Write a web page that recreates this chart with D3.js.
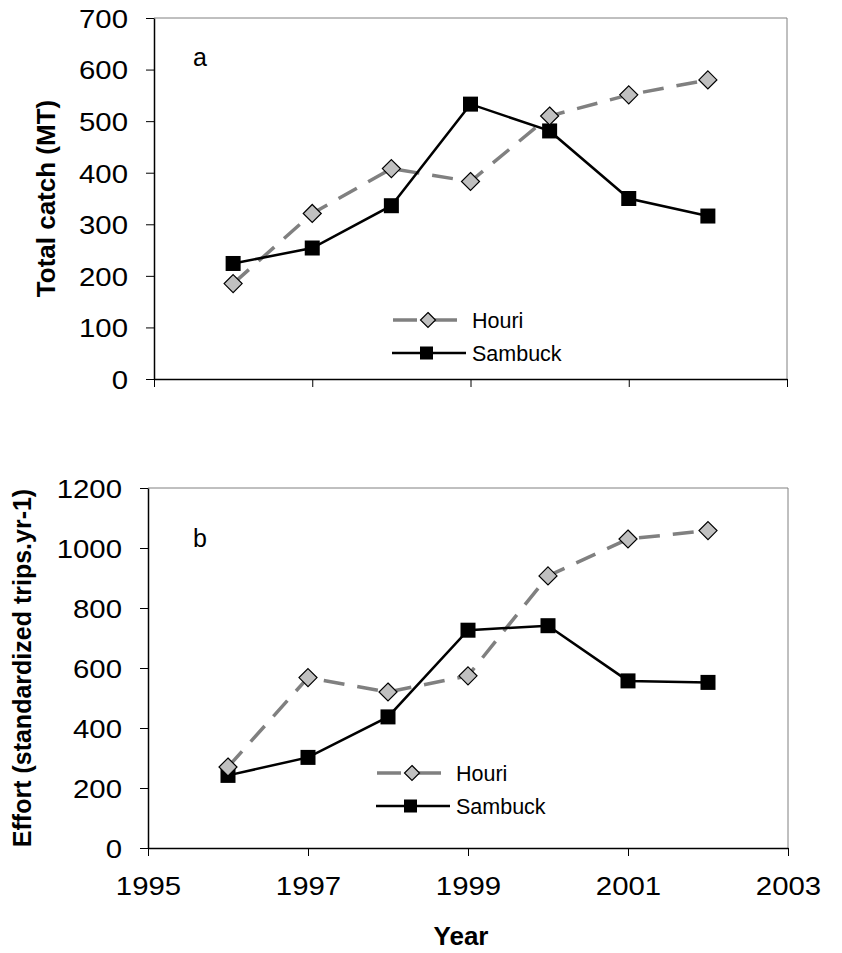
<!DOCTYPE html>
<html><head><meta charset="utf-8">
<script src="https://cdn.jsdelivr.net/npm/d3@7/dist/d3.min.js"></script>
<style>body{margin:0;background:#fff}svg{display:block}text{font-family:"Liberation Sans",Arial,sans-serif;fill:#000}</style>
</head><body>
<svg id="c" width="842" height="953"></svg>
<script>
const years = [1996, 1997, 1998, 1999, 2000, 2001, 2002];
const catchHouri = [185, 321, 408, 383, 510, 551, 580];
const catchSambuck = [224, 254, 336, 533, 481, 350, 316];
const effortHouri = [270, 568, 520, 574, 907, 1030, 1058];
const effortSambuck = [242, 302, 437, 726, 741, 557, 552];
const xTicks = [1995, 1997, 1999, 2001, 2003];
const catchTicks = [0, 100, 200, 300, 400, 500, 600, 700];
const effortTicks = [0, 200, 400, 600, 800, 1000, 1200];
const seriesNames = ["Houri", "Sambuck"];

const svg = d3.select("#c");
const FONT = "'Liberation Sans',Arial,sans-serif";

function panel(o) {
  const g = svg.append("g");
  const x = d3.scaleLinear().domain([1995, 2003]).range([o.left, o.right]);
  const y = d3.scaleLinear().domain([0, o.ymax]).range([o.bottom, o.top]);
  g.append("path").attr("d", `M${o.left},${o.top}H${o.right}V${o.bottom}`)
    .attr("fill", "none").attr("stroke", "#808080").attr("stroke-width", 1);
  const ya = g.append("g").attr("transform", `translate(${o.left},0)`)
    .call(d3.axisLeft(y).tickValues(o.yticks).tickSize(8).tickSizeOuter(0).tickPadding(18).tickFormat(d3.format("d")));
  ya.select(".domain").attr("stroke", "#000").attr("stroke-width", 1.5);
  ya.selectAll("text").style("font-size", "26px").style("font-family", FONT)
    .attr("x", 0).attr("dy", "0.36em").attr("transform", "translate(-26,0) scale(1.13,1)");
  const xa = g.append("g").attr("transform", `translate(0,${o.bottom})`)
    .call(d3.axisBottom(x).tickValues(xTicks).tickSize(8).tickSizeOuter(0).tickPadding(8).tickFormat(d3.format("d")));
  xa.select(".domain").attr("stroke", "#000").attr("stroke-width", 1.5);
  if (!o.xlabels) xa.selectAll("text").remove();
  else xa.selectAll("text").style("font-size", "26px").style("font-family", FONT)
    .attr("y", 0).attr("dy", 0).attr("transform", "translate(0,47) scale(1.13,1)");

  const line = d3.line().x((d, i) => x(years[i])).y(d => y(d));
  g.append("path").datum(o.houri).attr("d", line).attr("fill", "none")
    .attr("stroke", "#808080").attr("stroke-width", 3.5).attr("stroke-dasharray", "21,13");
  g.append("path").datum(o.sambuck).attr("d", line).attr("fill", "none")
    .attr("stroke", "#000").attr("stroke-width", 2.5);
  const dsz = 9;
  const diamond = (cx, cy, s) => `M${cx},${cy - s}L${cx + s},${cy}L${cx},${cy + s}L${cx - s},${cy}Z`;
  g.selectAll(".sq").data(o.sambuck).join("rect")
    .attr("x", (d, i) => x(years[i]) - 7.5).attr("y", d => y(d) - 7.5)
    .attr("width", 15).attr("height", 15).attr("fill", "#000");
  g.selectAll(".dm").data(o.houri).join("path")
    .attr("d", (d, i) => diamond(x(years[i]), y(d), dsz))
    .attr("fill", "#c0c0c0").attr("stroke", "#000").attr("stroke-width", 1.2);

  g.append("text").attr("x", 193).attr("y", o.letterY).style("font-size", "25px").text(o.letter);

  const lg = g.append("g");
  const lx = o.legX, ly = o.legY;
  lg.append("line").attr("x1", lx).attr("x2", lx + 64).attr("y1", ly).attr("y2", ly)
    .attr("stroke", "#808080").attr("stroke-width", 3.5).attr("stroke-dasharray", "24,16");
  lg.append("path").attr("d", diamond(lx + 35, ly, 7.5))
    .attr("fill", "#c0c0c0").attr("stroke", "#000").attr("stroke-width", 1.2);
  lg.append("text").attr("x", lx + 79).attr("y", ly).attr("dy", "0.36em").style("font-size", "21.5px").text(seriesNames[0]);
  lg.append("line").attr("x1", lx - 1).attr("x2", lx + 73).attr("y1", ly + 33).attr("y2", ly + 33)
    .attr("stroke", "#000").attr("stroke-width", 2.5);
  lg.append("rect").attr("x", lx + 27).attr("y", ly + 33 - 6.5).attr("width", 13).attr("height", 13).attr("fill", "#000");
  lg.append("text").attr("x", lx + 79).attr("y", ly + 33).attr("dy", "0.36em").style("font-size", "21.5px").text(seriesNames[1]);

  svg.append("text").attr("transform", `translate(${o.ytx},${(o.top + o.bottom) / 2}) rotate(-90)`)
    .attr("text-anchor", "middle").attr("dy", "0.36em").style("font-size", o.ytsize).style("font-weight", "bold").text(o.ytitle);
}

panel({left: 154, right: 787, top: 18, bottom: 379, ymax: 700, yticks: catchTicks,
  houri: catchHouri, sambuck: catchSambuck, letter: "a", letterY: 66, legX: 393, legY: 320,
  ytitle: "Total catch (MT)", ytx: 46, ytsize: "26px", xlabels: false});
panel({left: 148, right: 788, top: 488, bottom: 848, ymax: 1200, yticks: effortTicks,
  houri: effortHouri, sambuck: effortSambuck, letter: "b", letterY: 547, legX: 377, legY: 773,
  ytitle: "Effort (standardized trips.yr-1)", ytx: 22, ytsize: "25px", xlabels: true});

svg.append("text").attr("x", 461).attr("y", 945).attr("text-anchor", "middle")
  .style("font-size", "26px").style("font-weight", "bold").text("Year");
</script>
</body></html>
